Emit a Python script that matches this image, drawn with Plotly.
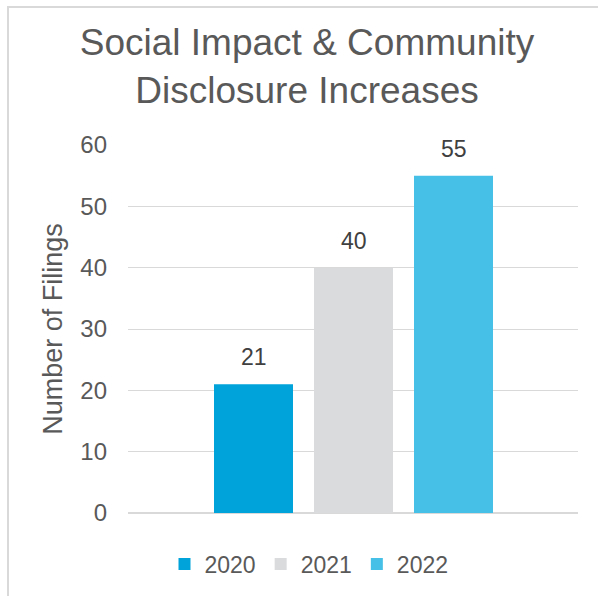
import plotly.graph_objects as go

# Filing counts per year, one series per year
years = ["2020", "2021", "2022"]
filings = [21, 40, 55]
colors = ["#00A3DA", "#DADBDD", "#46C0E6"]

W, H = 598, 596
L, R, T, B = 128, 20, 145, 83
plot_w = W - L - R
plot_h = H - T - B

fig = go.Figure()
for i, (yr, val, col) in enumerate(zip(years, filings, colors)):
    fig.add_trace(go.Bar(
        x=[yr], y=[val], name=yr, width=0.79,
        marker=dict(color=col, line=dict(width=0)),
        hoverinfo="x+y",
    ))
    # value label above each bar (category index i on the x axis)
    fig.add_annotation(
        x=i, y=val, text=str(val), showarrow=False,
        xref="x", yref="y", yanchor="bottom", yshift=12,
        font=dict(size=23, color="#404040"),
    )

# outer chart frame (top and left edges visible)
fx0 = (8 - L) / plot_w
fy1 = (H - B - 7) / plot_h

fig.update_layout(
    width=W, height=H,
    margin=dict(l=L, r=R, t=T, b=B, autoexpand=False),
    paper_bgcolor="white", plot_bgcolor="white",
    font=dict(family="Liberation Sans, Arial, sans-serif", color="#595959"),
    title=dict(
        text="Social Impact & Community<br>Disclosure Increases",
        x=307 / W, xanchor="center", xref="container",
        y=1 - 55 / H, yanchor="top", yref="container",
        font=dict(size=37, color="#595959"),
    ),
    barmode="overlay",
    showlegend=True,
    legend=dict(
        orientation="h", x=309 / W, xref="container", xanchor="center",
        y=1 - 564 / H, yref="container", yanchor="middle",
        font=dict(size=23, color="#595959"),
        traceorder="normal",
    ),
    shapes=[dict(
        type="rect", xref="paper", yref="paper",
        x0=fx0, x1=2, y0=-2, y1=fy1,
        line=dict(color="#D9D9D9", width=2), fillcolor="rgba(0,0,0,0)",
        layer="below",
    )],
)

fig.update_xaxes(type="category", range=[-1.255, 3.245],
                 showticklabels=False, showgrid=False, zeroline=False,
                 showline=False, ticks="")
fig.update_yaxes(
    range=[0, 60], dtick=10, showgrid=True, gridcolor="#D9D9D9", gridwidth=1,
    zeroline=True, zerolinecolor="#D9D9D9", zerolinewidth=2,
    showline=False, ticks="", ticklabelstandoff=20,
    tickfont=dict(size=24, color="#595959"),
    title=dict(text="Number of Filings", font=dict(size=27, color="#595959"),
               standoff=9),
)

fig.write_html("out.html")
